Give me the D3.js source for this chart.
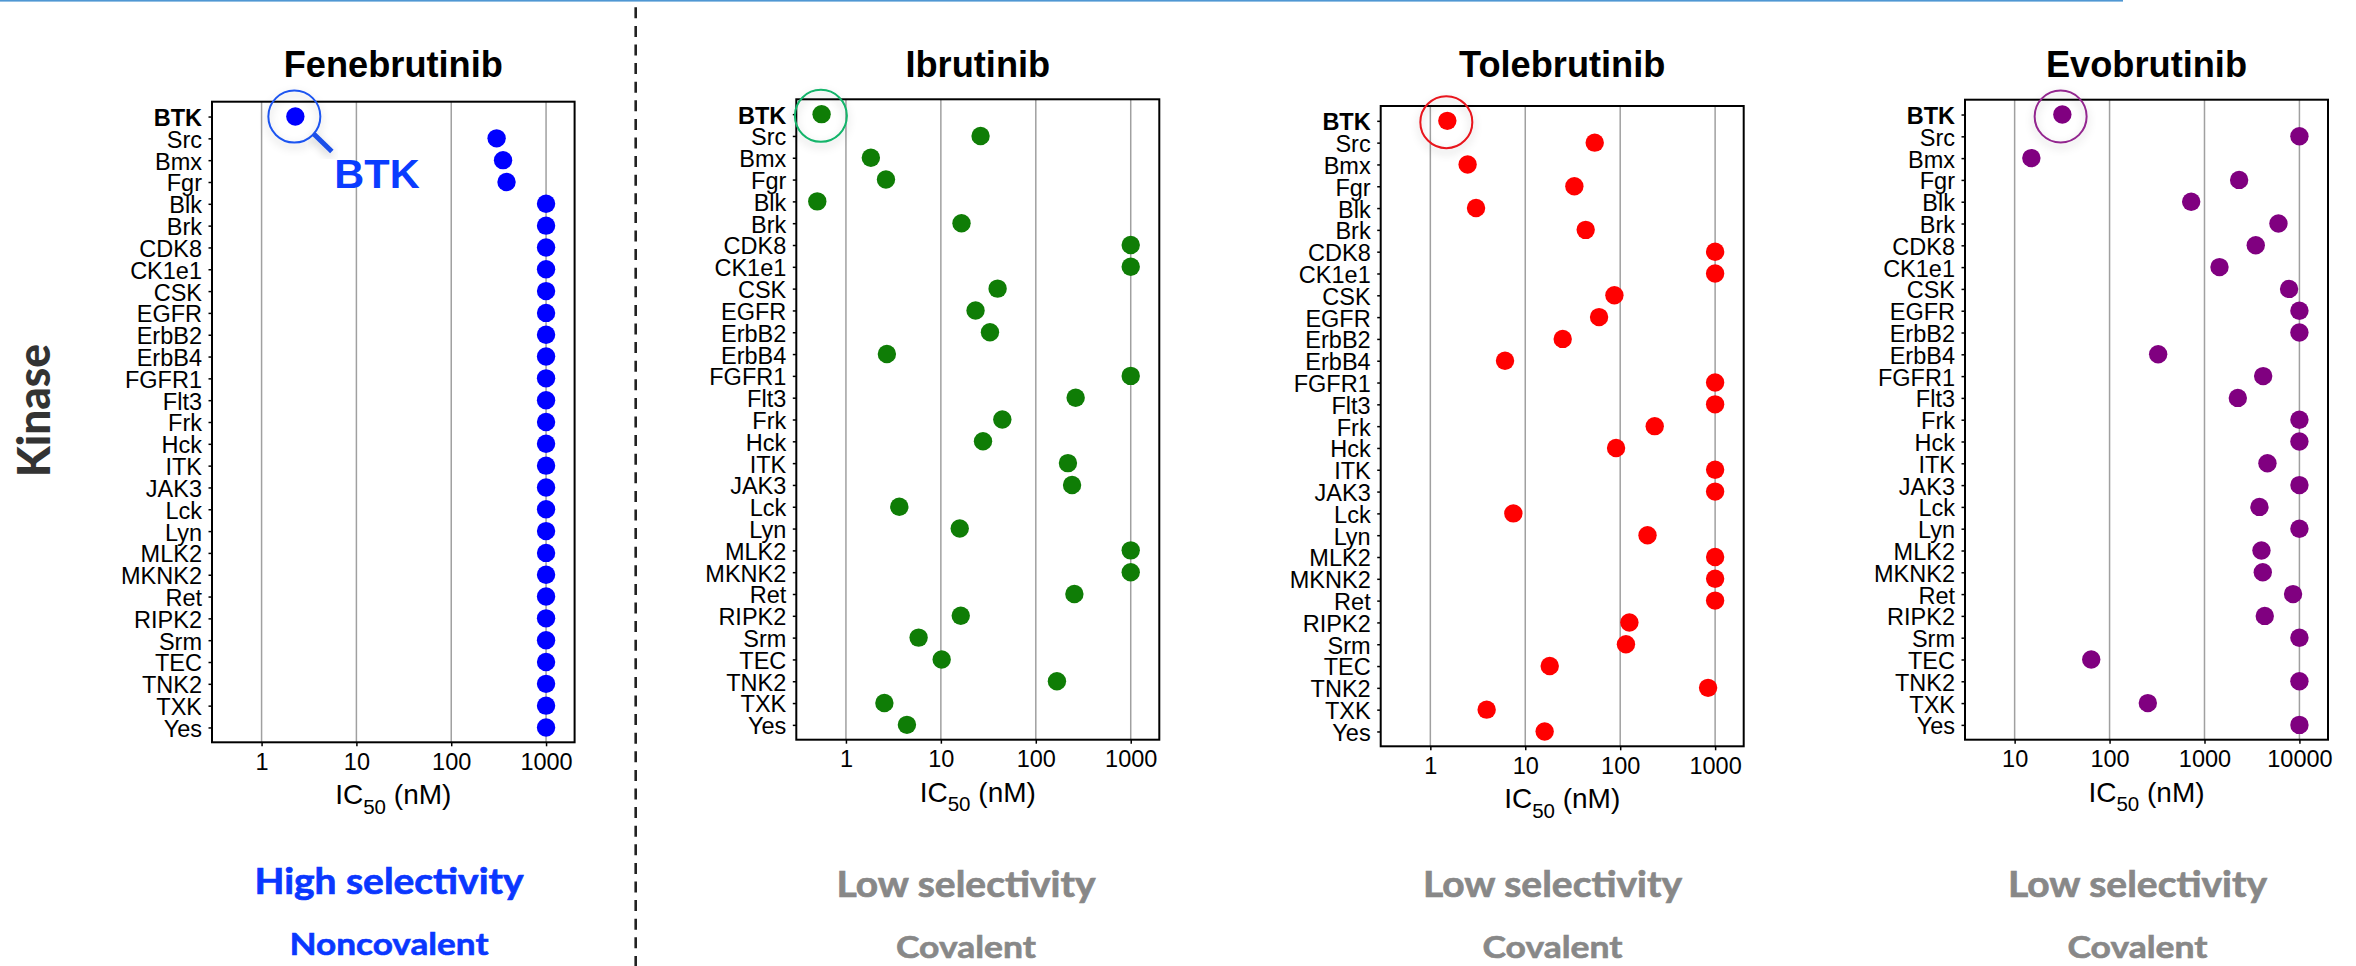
<!DOCTYPE html>
<html><head><meta charset="utf-8">
<script src="https://cdn.jsdelivr.net/npm/d3@7/dist/d3.min.js"></script>
<style>html,body{margin:0;padding:0;background:#fff}svg{display:block}</style>
</head><body>
<svg id="c" width="2356" height="966"></svg>
<script>
const kinases = ["BTK","Src","Bmx","Fgr","Blk","Brk","CDK8","CK1e1","CSK","EGFR","ErbB2","ErbB4","FGFR1","Flt3","Frk","Hck","ITK","JAK3","Lck","Lyn","MLK2","MKNK2","Ret","RIPK2","Srm","TEC","TNK2","TXK","Yes"];
const fenebrutinib = [2.27,301,352,383,1000,1000,1000,1000,1000,1000,1000,1000,1000,1000,1000,1000,1000,1000,1000,1000,1000,1000,1000,1000,1000,1000,1000,1000,1000];
const ibrutinib = [0.554,26.2,1.83,2.64,0.499,16.5,1000,1000,39.6,23.2,32.9,2.70,1000,263,44.4,27.8,218,241,3.65,15.8,1000,1000,255,16.2,5.83,10.2,167,2.54,4.39];
const tolebrutinib = [1.51,53.9,2.47,32.9,3.03,43.3,1000,1000,86.9,59.9,24.8,6.12,1000,1000,231,90.5,1000,1000,7.49,194,1000,1000,1000,125,115,18.1,843,3.92,16.0];
const evobrutinib = [31.8,10000,15.0,2317,724,6012,3467,1439,7780,10000,10000,325,4150,2244,10000,10000,4603,10000,3793,10000,3981,4111,8570,4315,10000,64.1,10000,253,10000];
const ticksA = [1,10,100,1000];
const ticksB = [10,100,1000,10000];
const drugNames = ["Fenebrutinib","Ibrutinib","Tolebrutinib","Evobrutinib"];
const selectivity = ["High selectivity","Low selectivity","Low selectivity","Low selectivity"];
const mechanism = ["Noncovalent","Covalent","Covalent","Covalent"];

const panels = [
 {v:fenebrutinib,t:ticksA,dom:[0.3,2000],l:212,r:574.6,top:101.7,bot:742.3,col:"#0000ff",ring:"#1f55f0",rdx:-1,rdy:0,cx:389,w1:269,w2:199,tc:"#0a37ff",b1:894,b2:955},
 {v:ibrutinib,t:ticksA,dom:[0.3,2000],l:796.3,r:1159.3,top:99.3,bot:739.7,col:"#0f7d06",ring:"#12b46a",rdx:-0.7,rdy:1.7,cx:966,w1:259,w2:140,tc:"#888888",b1:896.7,b2:957.7},
 {v:tolebrutinib,t:ticksA,dom:[0.3,2000],l:1380.7,r:1743.7,top:106,bot:746.3,col:"#ff0000",ring:"#e8141c",rdx:-1,rdy:1.3,cx:1552.5,w1:259,w2:140,tc:"#888888",b1:896.7,b2:957.7},
 {v:evobrutinib,t:ticksB,dom:[3,20000],l:1965,r:2328,top:99.7,bot:739.7,col:"#800080",ring:"#93288f",rdx:-1.7,rdy:2,cx:2137.5,w1:259,w2:140,tc:"#888888",b1:896.7,b2:957.7}
];
const sans = "'Liberation Sans',Arial,sans-serif";
const gothic = "Lato,'Open Sans',sans-serif";
const svg = d3.select("#c");
const defs = svg.append("defs");
const flt = defs.append("filter").attr("id","sh").attr("x","-30%").attr("y","-30%").attr("width","160%").attr("height","170%");
flt.append("feDropShadow").attr("dx",0).attr("dy",4).attr("stdDeviation",4).attr("flood-color","#000").attr("flood-opacity",0.22);

svg.append("rect").attr("x",0).attr("y",0).attr("width",2123).attr("height",1.6).attr("fill","#4f97d3");
svg.append("line").attr("x1",635.7).attr("x2",635.7).attr("y1",7.3).attr("y2",966)
  .attr("stroke","#222").attr("stroke-width",2.6).attr("stroke-dasharray","11,7.6");

svg.append("text").attr("transform","translate(50,410.5) rotate(-90)").attr("text-anchor","middle")
  .attr("font-family",gothic).attr("font-weight",900).attr("font-size",46).attr("fill","#333")
  .attr("textLength",133).attr("lengthAdjust","spacingAndGlyphs").text("Kinase");

panels.forEach((p,i)=>{
  const g = svg.append("g");
  const x = d3.scaleLog().domain(p.dom).range([p.l,p.r]);
  const y = d3.scalePoint().domain(kinases).range([p.top,p.bot]).padding(0.68);

  g.selectAll("line.grid").data(p.t).join("line").attr("class","grid")
    .attr("x1",d=>x(d)).attr("x2",d=>x(d)).attr("y1",p.top).attr("y2",p.bot)
    .attr("stroke","#a0a0a0").attr("stroke-width",1.5);

  const ax = g.append("g").attr("transform",`translate(0,${p.bot})`)
    .call(d3.axisBottom(x).tickValues(p.t).tickFormat(d3.format("d")).tickSize(4).tickPadding(7));
  const ay = g.append("g").attr("transform",`translate(${p.l},0)`)
    .call(d3.axisLeft(y).tickSize(3.5).tickPadding(6.5));
  [ax,ay].forEach(a=>{
    a.select(".domain").remove();
    a.selectAll("line").attr("stroke","#000").attr("stroke-width",1.5);
    a.selectAll("text").attr("font-family",sans).attr("font-size",23.5).attr("fill","#000");
  });
  ay.selectAll("text").attr("dy","0.38em").attr("font-weight",d=>d==="BTK"?700:400);

  g.append("rect").attr("x",p.l).attr("y",p.top).attr("width",p.r-p.l).attr("height",p.bot-p.top)
    .attr("fill","none").attr("stroke","#000").attr("stroke-width",2);

  g.selectAll("circle.pt").data(p.v).join("circle").attr("class","pt")
    .attr("cx",d=>x(d)).attr("cy",(d,j)=>y(kinases[j])).attr("r",9.2).attr("fill",p.col);

  const rx = x(p.v[0])+p.rdx, ry = y("BTK")+p.rdy;
  g.append("circle").attr("cx",rx).attr("cy",ry).attr("r",26)
    .attr("fill","none").attr("stroke",p.ring).attr("stroke-width",2).attr("filter","url(#sh)");
  if(i===0){
    g.append("line").attr("x1",rx+19.5).attr("y1",ry+17.5).attr("x2",rx+37.5).attr("y2",ry+35)
      .attr("stroke","#1a4fe8").attr("stroke-width",5).attr("filter","url(#sh)");
    g.append("text").attr("x",rx+40).attr("y",187.7).attr("font-family",sans).attr("font-weight",700)
      .attr("font-size",41.5).attr("fill","#0a3cff").text("BTK");
  }

  const mid=(p.l+p.r)/2;
  g.append("text").attr("x",mid).attr("y",77).attr("text-anchor","middle")
    .attr("font-family",sans).attr("font-weight",700).attr("font-size",36.2).attr("fill","#000").text(drugNames[i]);

  const lab=g.append("text").attr("x",mid).attr("y",p.bot+62).attr("text-anchor","middle")
    .attr("font-family",sans).attr("font-size",28).attr("fill","#000");
  lab.append("tspan").text("IC");
  lab.append("tspan").attr("font-size",20.5).attr("dy",9.5).text("50");
  lab.append("tspan").attr("dy",-9.5).text(" (nM)");

  g.append("text").attr("x",p.cx).attr("y",p.b1).attr("text-anchor","middle")
    .attr("font-family",gothic).attr("font-weight",700).attr("font-size",37).attr("fill",p.tc)
    .attr("stroke",p.tc).attr("stroke-width",0.7)
    .attr("textLength",p.w1).attr("lengthAdjust","spacingAndGlyphs").text(selectivity[i]);
  g.append("text").attr("x",p.cx).attr("y",p.b2).attr("text-anchor","middle")
    .attr("font-family",gothic).attr("font-weight",700).attr("font-size",31).attr("fill",p.tc)
    .attr("stroke",p.tc).attr("stroke-width",0.6)
    .attr("textLength",p.w2).attr("lengthAdjust","spacingAndGlyphs").text(mechanism[i]);
});
</script>
</body></html>
